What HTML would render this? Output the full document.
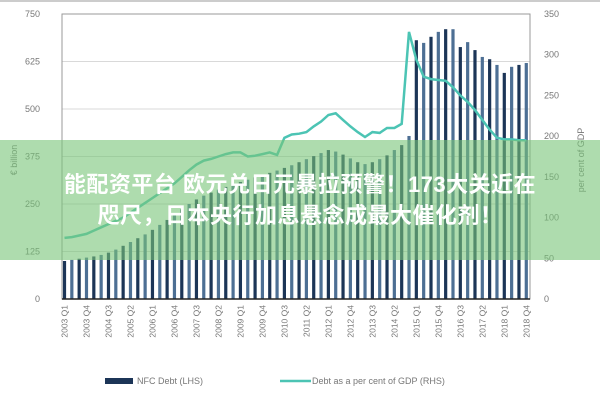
<!DOCTYPE html>
<html><head><meta charset="utf-8"><style>
html,body{margin:0;padding:0;background:#fff;width:600px;height:400px;overflow:hidden}
svg text{font-family:"Liberation Sans",sans-serif}
.banner{position:absolute;left:0;top:140px;width:600px;height:120px;background:rgba(120,196,120,0.6);color:#fff;font-family:"Liberation Sans","Noto Sans CJK SC",sans-serif;font-weight:bold;font-size:22px;text-align:center;line-height:31px;padding-top:29px;box-sizing:border-box;letter-spacing:0.5px}
</style></head><body>
<div style="position:absolute;left:0;top:0;width:600px;height:2px;background:#ccc"></div>
<svg id="chart" width="600" height="400" style="position:absolute;left:0;top:0"></svg>
<div class="banner">能配资平台 欧元兑日元暴拉预警！173大关近在<br>咫尺，日本央行加息悬念成最大催化剂！</div>
<script>
const bars = [100,103,106,109,112,116,122,130,140,150,160,170,182,195,208,222,236,250,262,272,280,288,295,302,308,314,320,326,332,338,345,352,360,368,376,384,392,388,380,370,360,355,360,368,378,392,405,429,681,674,690,703,710,710,663,676,655,637,631,616,595,611,616,621];
const pct = [75,76,78,80,84,88,92,96,100,106,112,118,124,130,136,142,150,158,165,170,172,175,178,180,180,175,176,178,180,177,198,202,203,205,212,218,226,228,220,212,205,199,205,204,210,210,215,328,294,273,270,269,268,260,250,242,232,220,208,198,196,196,195,195];
const leftTicks = [0,125,250,375,500,625,750];
const rightTicks = [0,50,100,150,200,250,300,350];
const quarters = [];
for (let y=2003;y<=2018;y++) for (let q=1;q<=4;q++) quarters.push(y+' Q'+q);

const svg = document.getElementById('chart');
const NS = 'http://www.w3.org/2000/svg';
const x0=62, x1=530, yTop=14, yBot=299;
const step=7.33;
const xAt=i=>64.5+step*i;
const yL=v=>yBot-(v/750)*(yBot-yTop);
const yR=v=>yBot-(v/350)*(yBot-yTop);
function mk(tag,attrs,parent){const e=document.createElementNS(NS,tag);for(const k in attrs)e.setAttribute(k,attrs[k]);(parent||svg).appendChild(e);return e;}

leftTicks.forEach(t=>{
  const g=mk('line',{x1:x0,x2:x1,y1:yL(t),y2:yL(t),stroke:'#d9d9d9','stroke-width':1});
  
  
  const tx=mk('text',{x:40,y:yL(t)+3,'font-size':9,fill:'#777','text-anchor':'end'});
  tx.textContent=t;
  
  
});
rightTicks.forEach(t=>{
  const tx=mk('text',{x:544,y:yR(t)+3,'font-size':9,fill:'#777'});
  tx.textContent=t;
  
  
});
const frame=mk('rect',{x:x0,y:yTop,width:x1-x0,height:yBot-yTop,fill:'none',stroke:'#999','stroke-width':1});



bars.forEach((v,i)=>{
  const r=mk('rect',{x:xAt(i)-1.6,y:yL(v),width:3.2,height:yBot-yL(v),fill:i%2?'#4d6f94':'#1c3557'});
  
  
});
const pts=pct.map((v,i)=>xAt(i).toFixed(1)+','+yR(v).toFixed(1)).join(' ');
const pl=mk('polyline',{points:pts,fill:'none',stroke:'#4cc4b4','stroke-width':2.5});


const ax=mk('line',{x1:x0,x2:x1,y1:yBot,y2:yBot,stroke:'#222','stroke-width':1.5});



quarters.forEach((q,i)=>{
  if(i%3) return;
  const x=xAt(i)+3, y=305;
  const tx=mk('text',{x:x,y:y,'font-size':8.5,fill:'#777','text-anchor':'end',transform:`rotate(-90 ${x} ${y})`});
  tx.textContent=q;
  
  
});

const lt=mk('text',{x:17,y:160,'font-size':9,fill:'#777','text-anchor':'middle',transform:'rotate(-90 17 160)'});
lt.textContent='€ billion';


const rt=mk('text',{x:584,y:160,'font-size':9,fill:'#777','text-anchor':'middle',transform:'rotate(-90 584 160)'});
rt.textContent='per cent of GDP';



const lb=mk('rect',{x:105,y:378,width:28,height:6,fill:'#1c3557'});


const l1=mk('text',{x:137,y:384,'font-size':9,fill:'#777'});
l1.textContent='NFC Debt (LHS)';


const ll=mk('line',{x1:280,x2:311,y1:381,y2:381,stroke:'#4cc4b4','stroke-width':2.5});


const l2=mk('text',{x:312,y:384,'font-size':9,fill:'#777'});
l2.textContent='Debt as a per cent of GDP (RHS)';


</script>
</body></html>
